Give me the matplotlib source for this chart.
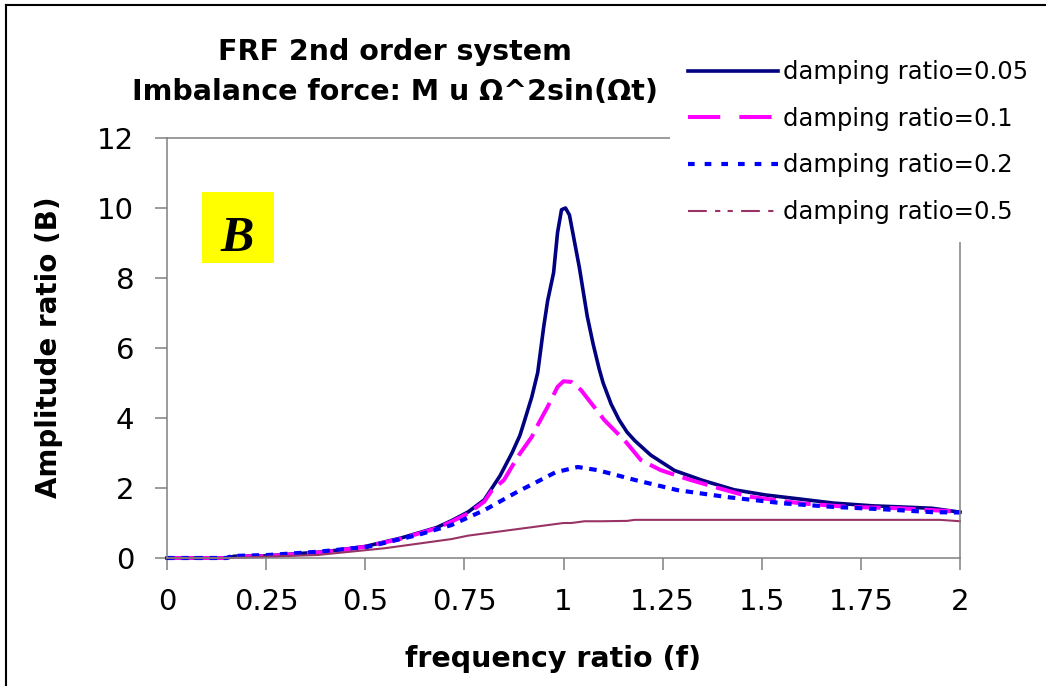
import numpy as np
import matplotlib
matplotlib.use('Agg')
import matplotlib.pyplot as plt
from matplotlib.lines import Line2D
from matplotlib.patches import Rectangle

# frequency ratio / amplitude ratio
r05 = [0, 0.15, 0.17, 0.25, 0.3, 0.4, 0.5, 0.59, 0.68, 0.72, 0.76, 0.8, 0.84, 0.87,
       0.89, 0.9, 0.92, 0.935, 0.95, 0.96, 0.975, 0.985, 0.995, 1.005, 1.015, 1.02,
       1.03, 1.04, 1.05, 1.06, 1.075, 1.09, 1.1, 1.12, 1.14, 1.16, 1.18, 1.22,
       1.28, 1.35, 1.43, 1.51, 1.6, 1.68, 1.78, 1.85, 1.93, 2.0]
B05 = [0, 0, 0.05, 0.06, 0.1, 0.18, 0.33, 0.57, 0.87, 1.08, 1.32, 1.66, 2.35, 3.0,
       3.5, 3.86, 4.6, 5.3, 6.6, 7.35, 8.15, 9.3, 9.95, 10.0, 9.8, 9.5,
       8.9, 8.3, 7.6, 6.9, 6.1, 5.4, 5.0, 4.4, 3.95, 3.6, 3.35, 2.94,
       2.5, 2.22, 1.95, 1.8, 1.68, 1.57, 1.49, 1.46, 1.42, 1.31]

r10 = [0, 0.15, 0.17, 0.25, 0.3, 0.4, 0.5, 0.59, 0.68, 0.72, 0.76, 0.8, 0.82, 0.85,
       0.885, 0.92, 0.935, 0.96, 0.985, 1.0, 1.02, 1.044, 1.077, 1.103, 1.145, 1.16,
       1.195, 1.245, 1.32, 1.39, 1.47, 1.6, 1.72, 1.85, 2.0]
B10 = [0, 0, 0.04, 0.05, 0.09, 0.17, 0.32, 0.55, 0.85, 1.05, 1.28, 1.61, 1.94, 2.23,
       2.9, 3.46, 3.8, 4.32, 4.89, 5.05, 5.03, 4.8, 4.32, 3.94, 3.46, 3.28,
       2.8, 2.51, 2.23, 2.0, 1.75, 1.56, 1.46, 1.42, 1.32]

r20 = [0, 0.15, 0.164, 0.256, 0.382, 0.507, 0.633, 0.717, 0.801, 0.885, 0.927, 0.98,
       1.036, 1.086, 1.18, 1.287, 1.413, 1.556, 1.68, 1.81, 1.93, 2.0]
B20 = [0, 0, 0.057, 0.086, 0.18, 0.32, 0.66, 0.94, 1.37, 1.9, 2.14, 2.45,
       2.6, 2.51, 2.23, 1.94, 1.74, 1.56, 1.46, 1.39, 1.31, 1.3]

r50 = [0, 0.16, 0.256, 0.38, 0.55, 0.717, 0.76, 0.9, 1.0, 1.02, 1.053, 1.094, 1.16,
       1.18, 1.95, 2.0]
B50 = [0, 0, 0.04, 0.086, 0.28, 0.54, 0.64, 0.85, 1.0, 1.0, 1.05, 1.05, 1.06,
       1.09, 1.09, 1.05]

labels = ['damping ratio=0.05', 'damping ratio=0.1', 'damping ratio=0.2', 'damping ratio=0.5']
xticks = [0, 0.25, 0.5, 0.75, 1, 1.25, 1.5, 1.75, 2]
xticklabels = ['0', '0.25', '0.5', '0.75', '1', '1.25', '1.5', '1.75', '2']
yticks = [0, 2, 4, 6, 8, 10, 12]

W, H = 1046, 686
fig = plt.figure(figsize=(W / 100, H / 100), dpi=100)
ax = fig.add_axes([167 / W, 1 - 558 / H, (960 - 167) / W, (558 - 138) / H])

ax.plot(r05, B05, color='#000080', lw=2.6, clip_on=False)
ax.plot(r10, B10, color='#FF00FF', lw=2.9, ls=(0, (6.5, 2.2)), dash_capstyle='butt', clip_on=False)
ax.plot(r20, B20, color='#0000FF', lw=3.0, ls=(0, (1.8, 1.6)), dash_capstyle='butt', clip_on=False)
ax.plot(r50, B50, color='#993366', lw=1.5, clip_on=False)

ax.set_xlim(0, 2)
ax.set_ylim(0, 12)
ax.set_xticks(xticks)
ax.set_xticklabels(xticklabels)
ax.set_yticks(yticks)
for s in ax.spines.values():
    s.set_color('#808080')
    s.set_linewidth(1.1)
ax.tick_params(axis='both', direction='out', length=8.6, width=1.1, color='#808080',
               labelsize=21, labelcolor='black')
ax.tick_params(axis='y', pad=15)
ax.tick_params(axis='x', pad=13)

fig.text(395 / W, 1 - 60 / H, 'FRF 2nd order system', ha='center', va='baseline',
         fontsize=20.5, fontweight='bold')
fig.text(395 / W, 1 - 100 / H, 'Imbalance force: M u \u03a9^2sin(\u03a9t)', ha='center',
         va='baseline', fontsize=20.5, fontweight='bold')
fig.text(49 / W, 1 - 347 / H, 'Amplitude ratio (B)', rotation=90, ha='center', va='center',
         fontsize=20, fontweight='bold')
fig.text(553 / W, 1 - 659 / H, 'frequency ratio (f)', ha='center', va='center',
         fontsize=20.5, fontweight='bold')

# yellow "B" tag
fig.add_artist(Rectangle((202 / W, 1 - 263 / H), 72 / W, 71 / H, transform=fig.transFigure,
                         facecolor='#FFFF00', edgecolor='none', zorder=3))
fig.text(237 / W, 1 - 251 / H, 'B', ha='center', va='baseline', fontsize=36,
         family='Liberation Serif', style='italic', fontweight='bold', zorder=4)

# legend with the dash patterns of the original
handles = [Line2D([], [], color='#000080', lw=2.6),
           Line2D([], [], color='#FF00FF', lw=2.9, ls=(0, (8, 4.75)), dash_capstyle='butt'),
           Line2D([], [], color='#0000FF', lw=3.0, ls=(0, (1.6, 2.4)), dash_capstyle='butt'),
           Line2D([], [], color='#993366', lw=1.5, ls=(0, (9, 4, 2.5, 3.5, 2.5, 4)))]
fig.legend(handles, labels, loc='upper left', bbox_to_anchor=(670 / W, 1 - 42 / H),
           frameon=True, fancybox=False, edgecolor='none', facecolor='white', framealpha=1,
           fontsize=17.5, handlelength=3.7, handletextpad=0.2, labelspacing=0.93,
           borderpad=0.75, borderaxespad=0)

# outer frame (only top and left edges are in the picture)
fig.add_artist(Line2D([6 / W, 6 / W], [0, 1 - 5 / H], transform=fig.transFigure,
                      color='black', lw=1.5))
fig.add_artist(Line2D([6 / W, 1], [1 - 5 / H, 1 - 5 / H], transform=fig.transFigure,
                      color='black', lw=1.5))

fig.savefig('out.png', dpi=100)
